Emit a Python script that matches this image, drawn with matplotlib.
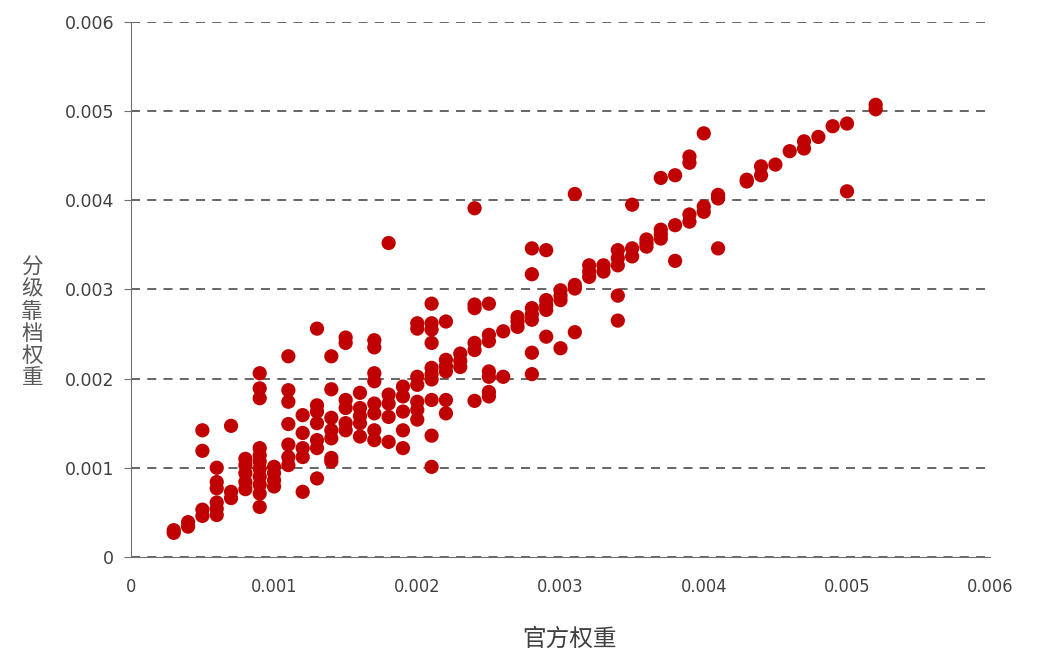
import matplotlib
matplotlib.use('Agg')
import matplotlib.pyplot as plt
from matplotlib.ticker import FixedLocator

plt.rcParams['font.family'] = ['Noto Sans CJK SC', 'DejaVu Sans']

# official weight (x) columns and the graded weights (y) observed at each
official_cols = [0.0003, 0.0004, 0.0005, 0.0006, 0.0007, 0.0008, 0.0009, 0.0010,
                 0.0011, 0.0012, 0.0013, 0.0014, 0.0015, 0.0016, 0.0017, 0.0018,
                 0.0019, 0.0020, 0.0021, 0.0022, 0.0023, 0.0024, 0.0025, 0.0026,
                 0.0027, 0.0028, 0.0029, 0.0030, 0.0031, 0.0032, 0.0033, 0.0034,
                 0.0035, 0.0036, 0.0037, 0.0038, 0.0039, 0.0040, 0.0041, 0.0043,
                 0.0044, 0.0045, 0.0046, 0.0047, 0.0048, 0.0049, 0.0050, 0.0052]
graded_cols = [
    [0.00030, 0.00027],
    [0.00039, 0.00034],
    [0.00142, 0.00119, 0.00053, 0.00046],
    [0.00100, 0.00084, 0.00077, 0.00061, 0.00054, 0.00047],
    [0.00147, 0.00073, 0.00066],
    [0.00110, 0.00103, 0.00094, 0.00084, 0.00076],
    [0.00206, 0.00189, 0.00178, 0.00122, 0.00114, 0.00107, 0.00099, 0.00090, 0.00081, 0.00071, 0.00056],
    [0.00101, 0.00094, 0.00086, 0.00079],
    [0.00225, 0.00187, 0.00174, 0.00149, 0.00126, 0.00112, 0.00103],
    [0.00159, 0.00139, 0.00122, 0.00112, 0.00073],
    [0.00256, 0.00170, 0.00163, 0.00150, 0.00131, 0.00122, 0.00088],
    [0.00225, 0.00188, 0.00156, 0.00142, 0.00133, 0.00111, 0.00107],
    [0.00246, 0.00240, 0.00176, 0.00167, 0.00150, 0.00142],
    [0.00184, 0.00167, 0.00158, 0.00150, 0.00135],
    [0.00243, 0.00235, 0.00206, 0.00197, 0.00172, 0.00161, 0.00142, 0.00131],
    [0.00352, 0.00182, 0.00172, 0.00157, 0.00129],
    [0.00191, 0.00180, 0.00163, 0.00142, 0.00122],
    [0.00262, 0.00256, 0.00202, 0.00193, 0.00174, 0.00165, 0.00154],
    [0.00284, 0.00262, 0.00255, 0.00240, 0.00212, 0.00205, 0.00199, 0.00176, 0.00136, 0.00101],
    [0.00264, 0.00221, 0.00214, 0.00208, 0.00176, 0.00161],
    [0.00228, 0.00220, 0.00213],
    [0.00391, 0.00283, 0.00279, 0.00240, 0.00232, 0.00175],
    [0.00284, 0.00249, 0.00242, 0.00208, 0.00202, 0.00185, 0.00180],
    [0.00253, 0.00202],
    [0.00269, 0.00264, 0.00258],
    [0.00346, 0.00317, 0.00279, 0.00272, 0.00266, 0.00229, 0.00205],
    [0.00344, 0.00288, 0.00282, 0.00277, 0.00247],
    [0.00299, 0.00293, 0.00288, 0.00234],
    [0.00407, 0.00305, 0.00301, 0.00252],
    [0.00327, 0.00320, 0.00314],
    [0.00327, 0.00320],
    [0.00344, 0.00335, 0.00327, 0.00293, 0.00265],
    [0.00395, 0.00346, 0.00337],
    [0.00356, 0.00352, 0.00348],
    [0.00425, 0.00367, 0.00362, 0.00357],
    [0.00428, 0.00372, 0.00332],
    [0.00449, 0.00442, 0.00384, 0.00376],
    [0.00475, 0.00393, 0.00387],
    [0.00406, 0.00402, 0.00346],
    [0.00423, 0.00421],
    [0.00438, 0.00428],
    [0.00440],
    [0.00455],
    [0.00466, 0.00458],
    [0.00471],
    [0.00483],
    [0.00486, 0.00410],
    [0.00507, 0.00502],
]

ticks = [0, 0.001, 0.002, 0.003, 0.004, 0.005, 0.006]
tick_labels = ['0', '0.001', '0.002', '0.003', '0.004', '0.005', '0.006']

xs, ys = [], []
for xv, col in zip(official_cols, graded_cols):
    for yv in col:
        xs.append(xv)
        ys.append(yv)

fig = plt.figure(figsize=(10.38, 6.63), dpi=100)
ax = fig.add_axes([0.126, 0.160, 0.828, 0.807])

ax.scatter(xs, ys, s=105, color='#C00000', edgecolors='none', zorder=3)

ax.set_xlim(0, 0.006)
ax.set_ylim(0, 0.006)
ax.xaxis.set_major_locator(FixedLocator(ticks))
ax.yaxis.set_major_locator(FixedLocator(ticks))
ax.set_xticklabels(tick_labels, fontsize=13, color='#404040', family=['DejaVu Sans'], fontstretch='condensed')
ax.set_yticklabels(tick_labels, fontsize=12.5, color='#404040', family=['DejaVu Sans'])

ax.grid(axis='y', linestyle=(0, (5, 4)), color='#595959', linewidth=1.3)
ax.set_axisbelow(True)

for side in ['top', 'right']:
    ax.spines[side].set_visible(False)
ax.spines['left'].set_color('#707070')
ax.spines['bottom'].set_color('#707070')
ax.tick_params(axis='y', length=5, color='#707070', pad=7)
ax.tick_params(axis='x', length=0, pad=15)

fig.text(0.031, 0.513, '分\n级\n靠\n档\n权\n重', fontsize=15.5, color='#595959',
         ha='center', va='center', linespacing=1.0)
fig.text(0.549, 0.036, '官方权重', fontsize=17, color='#404040', ha='center', va='center')

fig.savefig('out.png', dpi=100)
